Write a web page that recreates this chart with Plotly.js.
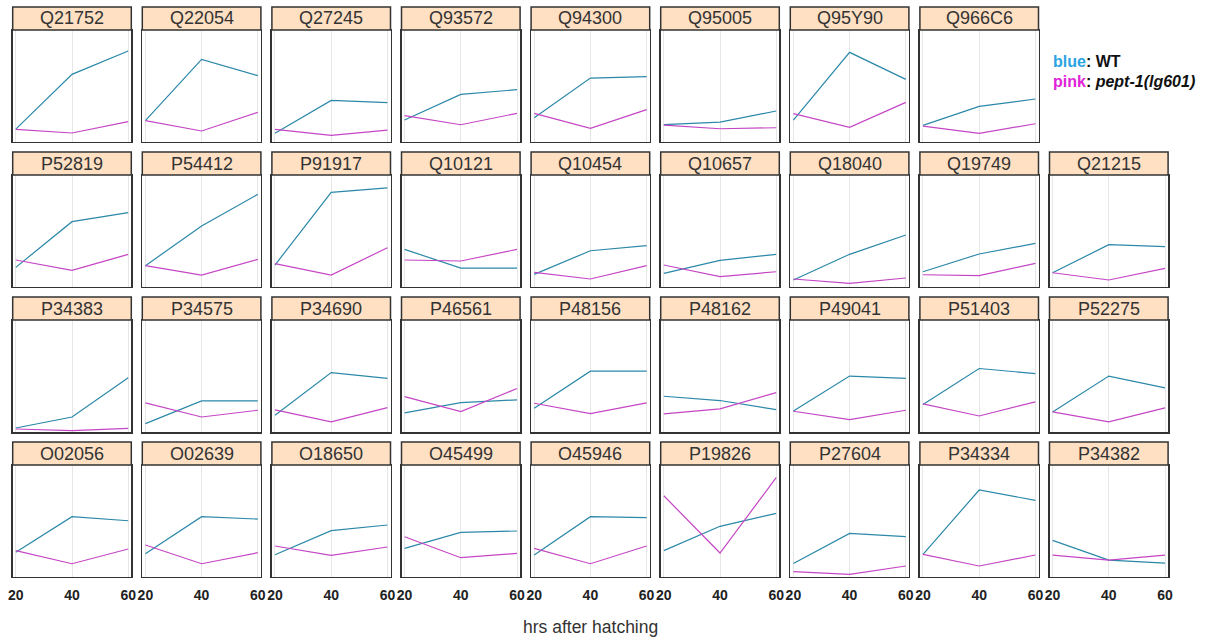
<!DOCTYPE html>
<html>
<head>
<meta charset="utf-8">
<script src="https://cdn.plot.ly/plotly-3.0.1.min.js"></script>
<style>
html,body{margin:0;padding:0;background:#fff;}
#chart{width:1208px;height:639px;}
</style>
</head>
<body>
<div id="chart"></div>
<script>
// ---- data (relative expression, arbitrary units) ----
const hours = [20, 40, 60];
const tickLabels = ["20", "40", "60"];
const proteins = [
  "O02056","O02639","O18650","O45499","O45946","P19826","P27604","P34334","P34382",
  "P34383","P34575","P34690","P46561","P48156","P48162","P49041","P51403","P52275",
  "P52819","P54412","P91917","Q10121","Q10454","Q10657","Q18040","Q19749","Q21215",
  "Q21752","Q22054","Q27245","Q93572","Q94300","Q95005","Q95Y90","Q966C6"
];
const wtValues = [
  [21.8,53.7,50.1],[20.6,53.7,51.6],[19.7,41.2,46.3],[25.4,39.7,40.9],[19.4,53.7,52.8],
  [23.3,45.1,56.7],[11.9,38.8,35.8],[20.0,77.6,68.4],[32.5,14.9,12.2],
  [3.6,13.4,48.4],[7.5,27.8,27.8],[14.9,53.1,47.8],[17.0,26.3,28.7],[21.2,54.3,54.3],
  [31.9,28.1,20.0],[18.8,49.9,47.8],[24.5,56.7,52.2],[17.9,49.9,39.4],
  [17.3,58.2,66.3],[18.8,54.3,82.7],[19.4,84.5,88.4],[33.4,16.7,16.7],[11.0,32.2,36.7],
  [11.9,23.6,29.0],[6.0,29.0,46.3],[13.4,29.3,38.8],[12.5,37.6,35.8],
  [11.3,60.3,81.2],[18.8,73.7,59.1],[7.5,37.0,34.9],[19.4,42.4,46.6],[21.5,57.0,58.2],
  [15.2,17.6,27.5],[19.4,80.0,55.8],[14.6,31.6,38.2]
];
const mutValues = [
  [23.3,11.6,24.8],[28.4,11.6,21.5],[27.5,19.1,26.6],[35.8,17.0,20.9],[25.4,11.6,27.5],
  [72.5,21.2,88.7],[4.5,2.1,9.6],[20.0,9.6,19.4],[19.4,14.9,19.4],
  [2.7,1.2,3.3],[26.0,13.4,19.4],[19.7,9.0,21.8],[31.6,18.2,38.8],[25.7,16.4,26.0],
  [16.1,20.6,35.2],[18.5,11.0,19.4],[25.1,14.3,26.9],[17.9,9.0,21.5],
  [23.9,14.6,29.0],[18.8,10.4,24.5],[20.6,10.4,34.9],[23.9,23.0,33.4],[12.8,6.9,18.8],
  [19.4,9.0,13.4],[6.9,3.0,7.8],[10.7,9.9,20.9],[12.5,6.0,16.4],
  [11.0,7.8,17.9],[18.8,9.6,26.3],[11.0,5.7,10.4],[23.3,15.2,25.4],[25.4,11.9,28.7],
  [14.9,11.6,12.5],[25.1,12.8,35.2],[14.0,7.5,16.1]
];
const seriesNames = ["WT", "pept-1(lg601)"];

// ---- layout geometry ----
const W = 1208, H = 639;
const NCOL = 9;
const colLeft0 = 12.7, colPitch = 129.6, panelW = 118.6;
const rowTop = [30, 175, 320, 465];        // data-area top, rows from top
const rowBot = [141.7, 286.7, 432, 576.7]; // data-area bottom
const stripH = 23;
const blueCol = "#2b88a8", pinkCol = "#c546c5";
const FONT = "Liberation Sans, Arial, sans-serif";

const data = [];
const layout = {
  width: W, height: H,
  margin: {l:0, r:0, t:0, b:0},
  paper_bgcolor: "#fff", plot_bgcolor: "#fff",
  showlegend: false,
  shapes: [], annotations: []
};

proteins.forEach((p, i) => {
  const rFromBottom = Math.floor(i / NCOL);
  const col = i % NCOL;
  const r = 3 - rFromBottom;
  const n = i + 1;
  const xa = "x" + (n === 1 ? "" : n), ya = "y" + (n === 1 ? "" : n);
  const xk = "xaxis" + (n === 1 ? "" : n), yk = "yaxis" + (n === 1 ? "" : n);
  const L = colLeft0 + col * colPitch;
  const x0 = L / W, x1 = (L + panelW) / W;
  const y0 = 1 - rowBot[r] / H, y1 = 1 - rowTop[r] / H;
  const bottom = (r === 3);

  data.push({x: hours, y: wtValues[i], xaxis: xa, yaxis: ya, type: "scatter", mode: "lines",
             name: seriesNames[0], line: {color: blueCol, width: 1.2}, hoverinfo: "skip"});
  data.push({x: hours, y: mutValues[i], xaxis: xa, yaxis: ya, type: "scatter", mode: "lines",
             name: seriesNames[1], line: {color: pinkCol, width: 1.2}, hoverinfo: "skip"});

  layout[xk] = {
    domain: [x0, x1], range: [18.9, 61.1], anchor: ya,
    tickvals: hours, ticktext: tickLabels, showticklabels: bottom,
    ticks: "", ticklabelstandoff: 5,
    tickfont: {family: FONT, size: 14, color: "#222", weight: "bold"},
    showgrid: true, gridcolor: "#e6e6e6", gridwidth: 1, zeroline: false,
    showline: true, mirror: true, linecolor: "#333", linewidth: 1.5, fixedrange: true
  };
  layout[yk] = {
    domain: [y0, y1], range: [0, 100], anchor: xa,
    showticklabels: false, ticks: "", showgrid: false, zeroline: false,
    showline: true, mirror: true, linecolor: "#333", linewidth: 1.5, fixedrange: true
  };
  // strip
  layout.shapes.push({type: "rect", xref: "paper", yref: "paper",
    x0: x0, x1: x1, y0: y1, y1: 1 - (rowTop[r] - stripH) / H,
    fillcolor: "#ffe0c3", line: {color: "#333", width: 1.5}});
  layout.annotations.push({xref: "paper", yref: "paper", x: (x0 + x1) / 2,
    y: 1 - (rowTop[r] - stripH / 2) / H, xanchor: "center", yanchor: "middle",
    text: p, showarrow: false, font: {family: FONT, size: 18, color: "#333"}});
});

layout.annotations.push({xref: "paper", yref: "paper", x: 590 / W, y: 1 - 627 / H,
  xanchor: "center", yanchor: "middle", showarrow: false, text: "hrs after hatching",
  font: {family: FONT, size: 17.5, color: "#333"}});
layout.annotations.push({xref: "paper", yref: "paper", x: 1051 / W, y: 1 - 62 / H,
  xanchor: "left", yanchor: "middle", showarrow: false,
  text: "<span style='color:#2aa3e2'>blue</span>: " + seriesNames[0],
  font: {family: FONT, size: 16, color: "#111", weight: "bold"}});
layout.annotations.push({xref: "paper", yref: "paper", x: 1051 / W, y: 1 - 82 / H,
  xanchor: "left", yanchor: "middle", showarrow: false,
  text: "<span style='color:#e024d8'>pink</span>: <i>" + seriesNames[1] + "</i>",
  font: {family: FONT, size: 16, color: "#111", weight: "bold"}});

Plotly.newPlot("chart", data, layout, {staticPlot: true, displayModeBar: false});
</script>
</body>
</html>
